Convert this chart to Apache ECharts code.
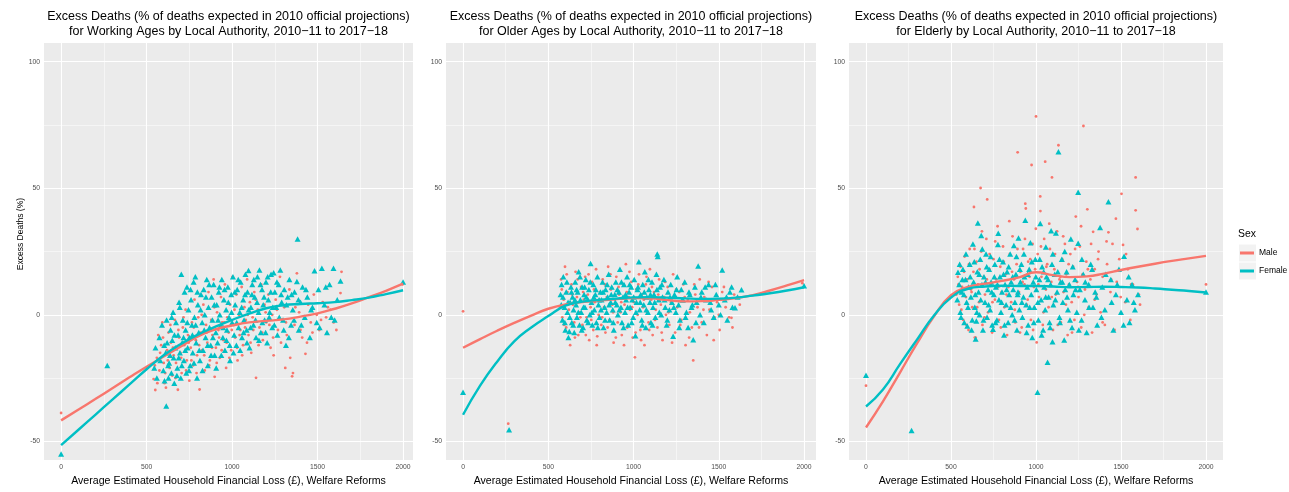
<!DOCTYPE html>
<html><head><meta charset="utf-8">
<script src="https://cdn.jsdelivr.net/npm/echarts@6/dist/echarts.min.js"></script>
<style>html,body{margin:0;padding:0;background:#fff}#c{width:1289px;height:492px}</style>
</head><body><div id="c"></div>
<script>
// ---------------- DATA ----------------
const xTicks = [0, 500, 1000, 1500, 2000];
const xMinorTicks = [250, 750, 1250, 1750];
const yTicks = [-50, 0, 50, 100];
const yMinorTicks = [-25, 25, 75];

const panelTitles = [
  'Excess Deaths (% of deaths expected in 2010 official projections)\nfor Working Ages by Local Authority, 2010\u221211 to 2017\u221218',
  'Excess Deaths (% of deaths expected in 2010 official projections)\nfor Older Ages by Local Authority, 2010\u221211 to 2017\u221218',
  'Excess Deaths (% of deaths expected in 2010 official projections)\nfor Elderly by Local Authority, 2010\u221211 to 2017\u221218'
];
const xAxisTitle = 'Average Estimated Household Financial Loss (\u00a3), Welfare Reforms';
const yAxisTitle = 'Excess Deaths (%)';
const legendTitle = 'Sex';
const sexes = ['Male', 'Female'];

// smoothed (loess) fits, evaluated at fitX
const fitX = [0,100,200,300,400,500,600,700,800,900,1000,1100,1200,1300,1400,1500,1600,1700,1800,1900,2000];
const workMaleFit   = [-41.7,-37.5,-33.3,-29,-24.7,-20.5,-16.5,-12.5,-8.5,-5.8,-4.2,-3.0,-2.4,-1.8,-0.7,0.6,2.4,4.5,7.0,9.5,12.3];
const workFemaleFit = [-51.5,-45.5,-39.5,-33.5,-27.5,-21.5,-16,-11.5,-7.8,-4.8,-2,0.5,2.6,3.8,4.3,4.6,5,5.8,6.8,8.2,9.7];
const olderMaleFit   = [-13,-9.6,-6.3,-3.2,-0.3,2.4,4.1,5.0,5.7,6.2,6.6,6.5,5.8,5.3,5.4,5.9,6.6,7.8,9.6,11.6,13.7];
const olderFemaleFit = [-39.5,-28,-18.5,-10.5,-5,-0.5,3.6,5.2,5.9,6.4,6.9,7.0,6.8,6.5,6.3,6.4,6.8,7.6,8.5,9.6,10.9];
const elderMaleFit   = [-44.5,-34.2,-22.8,-11.3,-0.6,7.8,11.0,12.3,13.4,14.8,16.8,15.7,14.9,15.2,16.3,17.7,19.0,20.2,21.3,22.3,23.3];
const elderFemaleFit = [-36.2,-29.5,-19.5,-9.8,-0.3,6.8,10.3,11.2,11.5,11.4,11.4,11.2,10.9,11.0,11.1,11.0,10.8,10.4,9.9,9.4,8.8];

// points: [loss, excess deaths %]
const workMale = [[0,-38.8],[541,-25.4],[551,-29.7],[560,-17],[568,-8],[575,-22],[585,-12],[592,-3],[600,-19],[605,-27],[613,-28.8],[620,-14],[628,-7],[635,-21],[642,-11],[650,-24],[658,-16],[665,-2],[672,-19],[683,-29.6],[690,-9],[698,-15],[705,-23],[712,-5],[720,-12],[728,2],[735,-18],[742,-8],[750,-26],[758,-13],[765,-3],[772,-20],[780,6],[788,-10],[795,-16],[802,-1],[810,-29.5],[818,-7],[825,-14],[832,4],[840,-22],[848,-4],[855,-11],[862,9],[870,-18],[878,-2],[885,-8],[892,14],[898,-24.5],[905,-13],[912,1],[920,-6],[928,-17],[935,7],[942,-3],[950,-10],[958,12],[965,-21],[972,-1],[980,-7],[988,4],[995,-14],[1002,15],[1010,-4],[1018,-9],[1025,8],[1032,-18],[1040,0],[1048,-6],[1056,11],[1064,-12],[1072,3],[1080,-2],[1088,14],[1096,-8],[1104,5],[1112,-15],[1120,-1],[1130,9],[1140,-24.9],[1150,2],[1160,-5],[1170,12],[1180,-10],[1190,4],[1200,-3],[1212,8],[1225,-13],[1235,0],[1243,-16],[1255,6],[1268,-6],[1280,15],[1292,-2],[1305,3],[1311,-21],[1320,-8],[1335,10],[1351,-24.3],[1356,-23],[1365,-4],[1379,16.4],[1392,1],[1410,-9],[1429,-15.4],[1445,4],[1460,-3],[1478,8],[1495,0],[1510,-6],[1530,5],[1550,-1],[1575,2],[1594,-3],[1610,-6],[1634,8.6],[1640,17],[1997,12],
  [548,-20],[563,-27],[579,-15],[596,-9],[609,-23],[624,-18],[639,-4],[654,-13],[669,-25],[686,-6],[702,-17],[716,-1],[731,-22],[746,-11],[762,-18],[776,-5],[792,-23],[807,-12],[822,0],[837,-16],[851,-7],[866,-20],[882,-13],[896,3],[910,-19],[924,-9],[939,-14],[954,-3],[968,-11],[984,-17],[998,-6],[1014,2],[1029,-13],[1044,-8],[1059,-16],[1076,-5],[1092,0],[1108,-11],[1124,-6],[1138,6],[1155,-12],[1176,-7],[1196,1],[1218,-4],[1240,-9],[1262,2],[1286,-11],[1315,-3],[1340,-17],[1370,3],[1400,-6],[1438,-11],[1470,-7],[1520,-2],[1560,3]];
const workFemale = [[0,-55],[270,-20],[545,-21],[552,-13],[560,-25],[575,-9],[580,-18],[590,-4],[598,-22],[605,-26],[612,-15],[615,-36],[620,-11],[628,-25],[632,-19],[640,-6],[645,-23],[650,-10],[655,1],[658,-17],[662,-27],[668,-13],[672,-3],[680,-21],[684,-8],[690,5],[695,-15],[700,-25],[703,16],[708,-11],[712,-2],[718,-18],[722,9],[728,-6],[732,-23],[736,11],[740,-13],[745,2],[750,-9],[755,-20],[760,6],[765,-4],[770,-15],[775,13],[780,-1],[785,15],[790,-11],[795,-25],[800,4],[805,-7],[812,-18],[818,8],[825,-3],[830,-14],[834,10],[840,0],[845,-9],[852,14],[858,-20],[862,3],[868,-5],[875,-12],[880,7],[885,-2],[892,12],[898,-16],[905,-7],[910,4],[915,-11],[922,9],[928,0],[935,-4],[940,14],[946,-9],[952,6],[958,-14],[965,2],[970,-6],[975,11],[982,-1],[988,-18],[995,8],[1000,-3],[1005,15],[1012,-8],[1018,4],[1025,-12],[1030,10],[1038,-5],[1045,1],[1050,13],[1058,-9],[1065,6],[1070,-2],[1078,16],[1085,-6],[1090,9],[1096,17.5],[1102,-13],[1110,3],[1118,12],[1125,-4],[1132,7],[1140,-9],[1148,15],[1155,1],[1160,17.7],[1168,-7],[1175,10],[1182,4],[1190,-2],[1198,13],[1205,-11],[1212,6],[1220,1],[1228,16],[1235,-5],[1243,16.6],[1250,9],[1258,3],[1265,-8],[1272,12],[1282,17.7],[1290,5],[1298,-2],[1305,10],[1315,-12],[1325,7],[1335,14],[1345,-4],[1355,2],[1365,9],[1379,13.2],[1383,30],[1390,-6],[1400,5],[1412,11],[1425,-1],[1440,7],[1455,-9],[1470,3],[1482,17.4],[1495,-3],[1505,10],[1525,18.4],[1540,4],[1555,-7],[1570,12],[1593,18.4],[1600,-2],[1615,6],[1634,13.4],[2000,13],
  [603,-12],[617,-2],[626,-20],[637,-16],[647,-1],[663,-8],[677,-24],[688,-17],[694,3],[706,-20],[716,-9],[726,-14],[738,-3],[748,-22],[757,10],[768,-8],[777,-19],[787,-4],[797,9],[808,-14],[816,2],[827,-22],[837,-6],[847,7],[857,-12],[866,12],[877,-16],[888,-9],[896,4],[907,-21],[918,-2],[926,11],[937,-16],[948,-5],[956,10],[967,-10],[978,5],[986,-12],[997,1],[1008,-15],[1016,9],[1027,-3],[1036,14],[1047,-14],[1056,3],[1067,-7],[1076,8],[1087,-11],[1097,2],[1108,-5],[1116,8],[1127,14],[1137,-2],[1146,5],[1157,-10],[1166,12],[1177,-3],[1187,7],[1196,-7],[1208,15],[1217,-1],[1226,9],[1238,3],[1247,-4],[1262,13],[1276,-1],[1287,8],[1302,-6],[1318,4],[1332,-9],[1348,8],[1362,-2],[1388,6],[1405,-4],[1432,10],[1462,2],[1512,-5],[1548,11],[1580,-1]];

const olderMale = [[0,1.4],[265,-43],[575,14],[582,-1],[590,6],[598,19],[605,-5],[612,9],[620,2],[628,-12],[636,12],[644,4],[652,-3],[660,17],[668,7],[676,-8],[684,1],[692,11],[700,-4],[708,6],[716,15],[724,-1],[732,8],[740,-10],[748,3],[756,13],[764,-6],[772,5],[780,18],[787,-8.5],[795,0],[803,9],[811,-4],[819,14],[827,3],[835,-7],[843,7],[851,19],[859,-2],[867,10],[875,4],[883,-11],[891,6],[899,15],[907,-3],[915,8],[923,1],[931,-8],[939,12],[947,4],[955,20],[963,-5],[971,7],[979,2],[987,13],[995,-9],[1002,5],[1008,-16.8],[1016,10],[1024,0],[1032,16],[1040,-6],[1048,8],[1056,3],[1064,-12],[1072,12],[1080,1],[1088,-3],[1096,18],[1104,6],[1112,-8],[1120,9],[1130,2],[1140,-5],[1150,14],[1160,4],[1170,-10],[1180,7],[1190,0],[1200,11],[1210,-4],[1220,5],[1232,16],[1244,-7],[1256,3],[1268,9],[1280,-2],[1292,12],[1305,-12],[1318,6],[1330,1],[1342,-5],[1350,-18],[1362,8],[1375,3],[1388,14],[1400,-3],[1415,7],[1430,-8],[1445,2],[1460,11],[1475,-1],[1490,5],[1505,-6],[1520,9],[1540,3],[1560,-1],[1574,-1.2],[1590,8],[1623,4],[1990,12.5],
  [579,10],[593,-4],[608,16],[624,-7],[640,8],[656,-9],[672,14],[688,-1],[704,9],[720,-8],[736,16],[752,-2],[768,10],[784,-12],[800,6],[816,-1],[832,12],[848,-5],[864,16],[880,1],[896,-9],[912,11],[928,5],[944,-12],[960,9],[976,17],[992,3],[1012,-7],[1028,12],[1044,-10],[1060,6],[1076,15],[1092,-6],[1108,11],[1126,-2],[1145,8],[1165,-7],[1185,13],[1205,1],[1226,-11],[1250,10],[1274,-4],[1300,7],[1326,-9],[1356,12],[1384,-5],[1410,2],[1440,13],[1470,-10],[1500,0],[1530,11],[1580,-5]];
const olderFemale = [[0,-30.6],[270,-45.4],[572,8],[578,12],[583,-2],[588,15],[595,3],[600,-6],[605,9],[612,1],[618,-9],[623,-6.6],[628,5],[633,11],[638,-3],[642,7],[648,2],[652,-7],[658,13],[663,4],[668,-1],[672,9],[678,17],[683,-4],[688,6],[693,1],[698,11],[704,-5],[710,8],[715,3],[720,14],[726,-2],[732,6],[738,10],[743,0],[748,20.3],[753,5],[758,-4],[764,12],[770,2],[776,8],[782,-3],[788,15],[794,4],[800,-1],[806,9],[812,6],[818,13],[824,-5],[830,3],[836,10],[842,1],[848,7],[854,16],[860,-2],[866,5],[872,11],[878,2],[884,-6],[890,8],[896,13],[902,4],[908,0],[914,9],[920,18],[926,3],[932,-3],[938,7],[944,12],[950,1],[956,6],[962,15],[968,-4],[974,9],[980,3],[986,11],[992,6],[998,-1],[1004,14],[1011,-8.3],[1017,5],[1023,10],[1031,21],[1036,2],[1042,8],[1048,-2],[1054,12],[1060,4],[1066,17],[1072,-5],[1078,7],[1084,1],[1090,10],[1096,5],[1102,-3],[1108,13],[1114,3],[1120,8],[1128,-1],[1134,16],[1139,24],[1142,23],[1148,6],[1155,11],[1162,0],[1170,7],[1178,14],[1186,3],[1194,-4],[1202,9],[1210,2],[1218,12],[1225,5],[1232,-8.5],[1240,8],[1248,1],[1256,15],[1264,4],[1272,-2],[1280,10],[1290,6],[1300,13],[1310,1],[1320,-5],[1330,8],[1340,3],[1350,-9.8],[1360,11],[1370,5],[1379,19.3],[1390,0],[1400,9],[1412,-3],[1425,6],[1440,12],[1455,2],[1470,-1],[1485,8],[1500,4],[1520,17.7],[1535,6],[1550,-2],[1565,9],[1580,3],[1595,2.8],[1610,7],[1633,9.9],[2000,11.5],
  [576,4],[586,7],[597,-3],[609,13],[616,5],[626,-1],[636,9],[646,-4],[656,6],[666,10],[676,1],[686,15],[696,-6],[706,3],[713,11],[723,7],[734,-3],[746,13],[756,1],[767,7],[779,10],[790,-5],[798,6],[809,2],[821,9],[833,-2],[845,12],[857,4],[869,8],[881,-3],[893,5],[905,10],[917,2],[929,13],[941,-5],[953,8],[965,3],[977,12],[989,-3],[1001,7],[1014,1],[1026,11],[1039,5],[1051,-4],[1063,9],[1075,2],[1087,14],[1099,8],[1111,-4],[1124,5],[1137,10],[1151,1],[1166,12],[1182,6],[1198,-2],[1214,7],[1236,3],[1252,10],[1268,-5],[1286,6],[1305,-1],[1325,9],[1345,4],[1366,-3],[1395,7],[1420,11],[1450,5],[1480,12],[1510,0],[1545,7],[1575,11]];

const elderMale = [[0,-28],[531,8],[540,15],[548,4],[556,19],[565,11],[572,-2],[580,23],[588,7],[595,14],[603,-6],[610,26],[618,10],[625,3],[632,17],[635,42.6],[640,-9],[645,-9],[650,21],[658,12],[665,5],[674,50.1],[678,25],[685,-4],[692,15],[700,8],[708,30],[713,45.6],[718,1],[726,18],[734,12],[742,-7],[750,22],[758,6],[766,14],[774,35],[782,-2],[790,19],[798,9],[806,27],[814,3],[822,16],[830,-8],[838,11],[846,24],[854,5],[862,31],[870,14],[878,-3],[886,20],[892,64.2],[900,9],[908,17],[916,-5],[924,26],[932,12],[937,43.9],[940,42],[946,4],[954,21],[962,15],[970,-2],[974,59.2],[980,28],[988,11],[995,18],[1000,78.4],[1004,-10.9],[1010,24],[1018,7],[1025,46.8],[1026,41],[1032,15],[1040,-4],[1048,30],[1054,60.5],[1058,10],[1066,20],[1074,3],[1082,26],[1090,13],[1094,54.3],[1100,-6],[1108,18],[1116,8],[1124,33],[1132,67],[1138,14],[1146,-3],[1154,22],[1162,9],[1170,28],[1178,16],[1186,-8],[1194,12],[1202,24],[1210,5],[1218,19],[1226,-2],[1234,38.8],[1242,13],[1250,7],[1258,27],[1266,-5],[1274,16],[1279,74.6],[1288,10],[1296,21],[1302,41.7],[1310,3],[1320,14],[1330,-7],[1336,32.8],[1345,18],[1356,8],[1368,25],[1380,1],[1392,15],[1405,-4],[1418,20],[1426,32.6],[1438,9],[1450,28],[1462,-6],[1475,13],[1490,22],[1503,47.8],[1512,27.6],[1525,5],[1540,18],[1555,-2],[1570,12],[1586,54.3],[1586,41.3],[1597,33.9],[1605,8],[1612,4],[2000,12],
  [544,12],[561,2],[577,17],[591,-4],[606,20],[621,9],[638,26],[654,3],[668,18],[682,33],[697,-1],[711,14],[727,24],[744,5],[760,29],[777,11],[793,-5],[810,21],[826,8],[843,37],[859,17],[875,2],[891,26],[906,-7],[921,13],[935,30],[951,6],[966,22],[983,-6],[999,34],[1014,12],[1029,27],[1044,1],[1061,19],[1078,36],[1093,7],[1112,24],[1128,-4],[1143,15],[1160,31],[1176,4],[1192,20],[1212,-7],[1230,26],[1248,11],[1265,35],[1284,0],[1305,18],[1324,28],[1345,6],[1365,22],[1392,-3],[1415,29],[1442,14],[1470,38],[1498,7],[1530,24],[1560,12]];
const elderFemale = [[0,-23.9],[268,-45.7],[537,6],[541,16.8],[548,12],[555,1],[562,9],[570,18],[578,-3],[585,14],[592,5],[596,-4.4],[603,11],[610,20],[617,7],[625,-2],[629,28],[633,13],[640,3],[645,-9.6],[649,-2.4],[655,17],[658,36.3],[662,9],[668,0],[672,22],[678,31.3],[682,12],[688,-6],[694,15],[700,5],[706,24],[712,-1],[718,10],[724,18],[730,2],[736,13],[742,-4],[747,-5.7],[752,8],[758,20],[764,11],[770,-2],[776,27.8],[778,32.2],[782,6],[788,15],[794,1],[800,9],[806,21],[812,-8],[818,12],[824,4],[830,17],[836,-3],[842,8],[848,24],[854,13],[860,0],[866,10],[870,27.4],[876,5],[882,16],[888,-6],[894,9],[897,30.4],[902,2],[908,13],[914,20],[920,-1],[926,7],[932,15],[937,37.4],[942,4],[948,11],[954,-4],[960,18],[967,28.5],[972,8],[978,-9],[984,13],[990,3],[996,22],[1002,10],[1009,-30.6],[1014,-2],[1020,14],[1025,36.1],[1030,6],[1036,19],[1042,-6],[1048,11],[1054,2],[1058,26.8],[1062,15],[1068,-18.7],[1074,7],[1080,-3],[1086,12],[1089,33.2],[1094,20],[1097,-10.6],[1102,4],[1110,16],[1117,32.3],[1124,9],[1132,64.4],[1138,-1],[1145,13],[1152,22],[1158,5],[1166,-9.9],[1172,10],[1180,17],[1188,2],[1196,12],[1205,30],[1212,-5],[1220,8],[1230,14],[1240,1],[1248,48.4],[1248,28.3],[1258,10],[1268,-2],[1278,16],[1288,6],[1298,-7],[1310,12],[1322,20],[1335,3],[1348,9],[1360,-4],[1377,34.5],[1390,11],[1405,2],[1426,44.7],[1440,14],[1455,-6],[1470,8],[1488,18],[1500,1],[1518,23.1],[1535,6],[1550,-3],[1565,12],[1582,2],[1600,8],[2000,9],
  [551,20],[559,-1],[567,14],[576,8],[588,24],[600,3],[613,15],[621,-6],[637,21],[643,8],[652,1],[666,16],[675,6],[684,26],[691,-2],[703,13],[710,19],[721,4],[733,23],[740,9],[755,15],[762,-3],[773,12],[785,22],[797,5],[809,16],[815,-4],[827,10],[839,19],[851,3],[863,15],[874,-2],[885,23],[892,8],[905,18],[917,5],[929,24],[945,-7],[951,16],[963,3],[975,21],[987,-3],[999,15],[1011,5],[1022,22],[1033,-8],[1045,17],[1057,7],[1071,14],[1083,-5],[1099,24],[1114,6],[1128,17],[1141,-3],[1155,13],[1169,25],[1183,7],[1200,-2],[1216,19],[1233,10],[1252,-6],[1270,22],[1290,13],[1312,3],[1330,18],[1355,7],[1385,-1],[1410,16],[1445,5],[1478,12],[1515,-4],[1545,15],[1575,5]];

// ---------------- CHART ----------------
const FONT = '"Liberation Sans", Arial, Helvetica, sans-serif';
const MALE_C = '#F8766D', FEMALE_C = '#00BFC4';
const panels = [
  {left: 44,  width: 369, xmax: 2058, title: panelTitles[0], male: workMale,  female: workFemale,  mFit: workMaleFit,  fFit: workFemaleFit},
  {left: 446, width: 370, xmax: 2070, title: panelTitles[1], male: olderMale, female: olderFemale, mFit: olderMaleFit, fFit: olderFemaleFit},
  {left: 849, width: 374, xmax: 2100, title: panelTitles[2], male: elderMale, female: elderFemale, mFit: elderMaleFit, fFit: elderFemaleFit}
];
const GRID_TOP = 43, GRID_H = 423, YMIN = -57.4, YMAX = 107.4;
const toLine = arr => fitX.map((x, i) => [x, arr[i]]);
const plain = v => String(v);

const grid = [], xAxis = [], yAxis = [], series = [], title = [];
panels.forEach((p, i) => {
  grid.push({left: p.left, top: GRID_TOP, width: p.width, height: GRID_H, show: true,
             backgroundColor: '#ebebeb', borderWidth: 0, containLabel: false});
  title.push({text: p.title, left: p.left + p.width / 2, top: 9, textAlign: 'center', padding: 0,
              textStyle: {fontFamily: FONT, fontSize: 12.5, fontWeight: 'normal', color: '#000', lineHeight: 15}});
  xAxis.push({gridIndex: i, type: 'value', min: -100, max: p.xmax, position: 'bottom',
    axisLine: {show: false},
    axisTick: {show: true, customValues: xTicks, length: 3, lineStyle: {color: '#444', width: 0.8}},
    axisLabel: {customValues: xTicks, formatter: plain, fontFamily: FONT, fontSize: 6.8, color: '#4d4d4d', margin: 4},
    splitLine: {show: false},
    name: xAxisTitle, nameLocation: 'middle', nameGap: 15,
    nameTextStyle: {fontFamily: FONT, fontSize: 10.6, color: '#000'}});
  yAxis.push({gridIndex: i, type: 'value', min: YMIN, max: YMAX, position: 'left',
    axisLine: {show: false},
    axisTick: {show: true, customValues: yTicks, length: 3, lineStyle: {color: '#444', width: 0.8}},
    axisLabel: {customValues: yTicks, formatter: plain, fontFamily: FONT, fontSize: 6.8, color: '#4d4d4d', margin: 4},
    splitLine: {show: false},
    name: i === 0 ? yAxisTitle : '', nameLocation: 'middle', nameGap: 15, nameRotate: 90,
    nameTextStyle: {fontFamily: FONT, fontSize: 8.5, color: '#000', padding: [0, 0, 0, 35]}});

  // panel grid lines, placed by the axes' own scales
  const major = {color: '#ffffff', width: 1.1, type: 'solid'};
  const minor = {color: '#ffffff', width: 0.5, type: 'solid'};
  series.push({type: 'line', xAxisIndex: i, yAxisIndex: i, data: [], silent: true, z: 1,
    markLine: {silent: true, symbol: ['none', 'none'], label: {show: false}, animation: false, z: 1,
      data: [].concat(
        xMinorTicks.map(v => ({xAxis: v, lineStyle: minor})),
        yMinorTicks.map(v => ({yAxis: v, lineStyle: minor})),
        xTicks.map(v => ({xAxis: v, lineStyle: major})),
        yTicks.map(v => ({yAxis: v, lineStyle: major})))}});

  series.push({type: 'scatter', name: sexes[0], xAxisIndex: i, yAxisIndex: i, data: p.male,
    symbol: 'circle', symbolSize: 2.8, itemStyle: {color: MALE_C, opacity: 1}, silent: true, z: 2});
  series.push({type: 'scatter', name: sexes[1], xAxisIndex: i, yAxisIndex: i, data: p.female,
    symbol: 'triangle', symbolSize: [6, 5.5], itemStyle: {color: FEMALE_C, opacity: 1}, silent: true, z: 3});
  series.push({type: 'line', name: sexes[0], xAxisIndex: i, yAxisIndex: i, data: toLine(p.mFit),
    showSymbol: false, smooth: 0.5, lineStyle: {color: MALE_C, width: 2.4}, itemStyle: {color: MALE_C}, silent: true, z: 4});
  series.push({type: 'line', name: sexes[1], xAxisIndex: i, yAxisIndex: i, data: toLine(p.fFit),
    showSymbol: false, smooth: 0.5, lineStyle: {color: FEMALE_C, width: 2.4}, itemStyle: {color: FEMALE_C}, silent: true, z: 5});
});

title.push({text: legendTitle, left: 1238, top: 229, padding: 0,
  textStyle: {fontFamily: FONT, fontSize: 10.4, fontWeight: 'normal', color: '#000'}});

const chart = echarts.init(document.getElementById('c'), null, {renderer: 'canvas'});
chart.setOption({
  animation: false,
  backgroundColor: '#ffffff',
  title, grid, xAxis, yAxis, series,
  legend: {
    orient: 'vertical', left: 1240, top: 247.5, padding: 0, itemWidth: 14, itemHeight: 3, itemGap: 7,
    selectedMode: false,
    data: [
      {name: sexes[0], icon: 'rect', itemStyle: {color: MALE_C}},
      {name: sexes[1], icon: 'rect', itemStyle: {color: FEMALE_C}}
    ],
    textStyle: {fontFamily: FONT, fontSize: 8.5, color: '#000', lineHeight: 11}
  },
  graphic: [
    {type: 'rect', shape: {x: 1239, y: 244.5, width: 17, height: 17}, style: {fill: '#f2f2f2'}, z: -1, silent: true},
    {type: 'rect', shape: {x: 1239, y: 262.5, width: 17, height: 17}, style: {fill: '#f2f2f2'}, z: -1, silent: true}
  ]
});
</script>
</body></html>
